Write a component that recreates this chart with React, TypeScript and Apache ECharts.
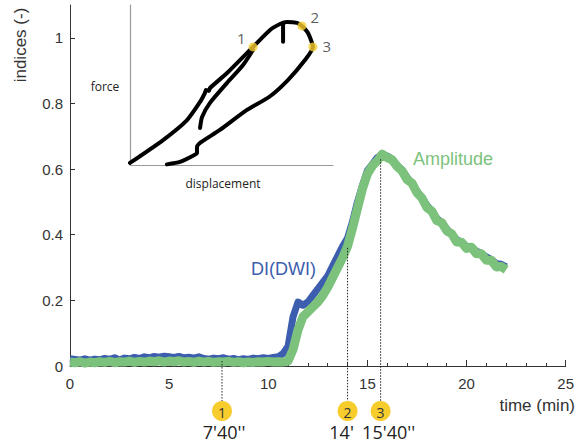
import React, { useEffect, useRef } from "react";
import * as echarts from "echarts";

// ---- main chart data (time in min) ----
const times = [
  0, 0.25, 0.5, 0.75, 1, 1.25, 1.5, 1.75, 2, 2.25, 2.5, 2.75, 3, 3.25, 3.5, 3.75,
  4, 4.25, 4.5, 4.75, 5, 5.25, 5.5, 5.75, 6, 6.25, 6.5, 6.75, 7, 7.25, 7.5, 7.75,
  8, 8.25, 8.5, 8.75, 9, 9.25, 9.5, 9.75, 10, 10.25, 10.5, 10.75, 11, 11.25, 11.5, 11.75,
  12, 12.25, 12.5, 12.75, 13, 13.25, 13.5, 13.75, 14, 14.25, 14.5, 14.75, 15, 15.25, 15.5, 15.75,
  16, 16.25, 16.5, 16.75, 17, 17.25, 17.5, 17.75, 18, 18.25, 18.5, 18.75, 19, 19.25, 19.5, 19.75,
  20, 20.25, 20.5, 20.75, 21, 21.25, 21.5, 21.75, 22,
];

const diDwi = [
  0.022, 0.02, 0.018, 0.022, 0.018, 0.021, 0.019, 0.023, 0.02, 0.025, 0.018, 0.024, 0.022, 0.026, 0.023, 0.028,
  0.025, 0.029, 0.027, 0.03, 0.028, 0.026, 0.029, 0.025, 0.027, 0.024, 0.028, 0.023, 0.021, 0.024, 0.022, 0.025,
  0.02, 0.023, 0.019, 0.022, 0.02, 0.024, 0.022, 0.025, 0.023, 0.026, 0.028, 0.038, 0.06, 0.15, 0.195, 0.185,
  0.195, 0.215, 0.235, 0.255, 0.275, 0.305, 0.335, 0.365, 0.39, 0.44, 0.5, 0.55, 0.595, 0.615, 0.635, 0.645,
  0.64, 0.63, 0.612, 0.597, 0.575, 0.555, 0.533, 0.512, 0.49, 0.472, 0.45, 0.437, 0.418, 0.402, 0.385, 0.377,
  0.365, 0.362, 0.35, 0.343, 0.332, 0.325, 0.312, 0.31, 0.302,
];

const amplitude = [
  0.012, 0.01, 0.013, 0.009, 0.012, 0.01, 0.013, 0.011, 0.014, 0.01, 0.013, 0.012, 0.015, 0.011, 0.014, 0.012,
  0.015, 0.013, 0.016, 0.012, 0.015, 0.013, 0.016, 0.012, 0.014, 0.011, 0.015, 0.012, 0.014, 0.011, 0.013, 0.012,
  0.014, 0.011, 0.013, 0.01, 0.012, 0.011, 0.013, 0.012, 0.014, 0.012, 0.013, 0.012, 0.015, 0.05, 0.11, 0.15,
  0.165, 0.18, 0.195, 0.215, 0.24, 0.27, 0.3, 0.33, 0.365, 0.42, 0.48, 0.54, 0.585, 0.61, 0.625, 0.645,
  0.635, 0.628, 0.608, 0.594, 0.568, 0.557, 0.528, 0.512, 0.483, 0.472, 0.443, 0.437, 0.412, 0.403, 0.378, 0.377,
  0.358, 0.362, 0.342, 0.342, 0.322, 0.322, 0.302, 0.303, 0.293,
];

const yTickValues = [0, 0.2, 0.4, 0.6, 0.8, 1];

// ---- annotated instants ----
const markTimes = [7 + 40 / 60, 14, 15 + 40 / 60];
const markValues = [0.015, 0.36, 0.63];
const markNumbers = ["1", "2", "3"];
const markLabels = ["7'40''", "14'", "15'40''"];

// ---- inset: force vs displacement (arbitrary units 0..100) ----
const loopDisp = [0, 16.3, 28.1, 34.5, 36.9, 37.4, 38.9, 39.4, 47.8, 60.6, 69, 73.9, 77.3, 82.3, 84.7, 87.7, 90.1,
  86.2, 77.8, 68.5, 57.6, 44.3, 34.5, 33, 33, 30.8, 24.6, 18.2];
const loopForce = [1.3, 15.6, 28.1, 39.4, 45, 46.9, 46.3, 48.1, 57.5, 73.8, 84.4, 88.1, 89.4, 88.8, 86.9, 82.5, 73.8,
  65.6, 53.1, 42.5, 34.4, 21.9, 13.8, 11.3, 7.5, 5.6, 1.9, 0.4];
const innerDisp = [34.5, 35.5, 39.4, 47.8, 55.7, 60.6];
const innerForce = [23.1, 30, 38.8, 51.3, 62.5, 71.9];
const dropDisp = [75.4, 75.4];
const dropForce = [88.8, 77];
const pointDisp = [60.6, 84.7, 90.1];
const pointForce = [73.8, 86.9, 73.8];

const BLUE = "#3d5eae";
const GREEN = "#7cc27c";
const YELLOW = "#f7cd2e";
const FONT = "'Liberation Sans', Arial, sans-serif";
const FONT2 = "'Open Sans', 'Noto Sans', sans-serif";

export default function App() {
  const ref = useRef<HTMLDivElement>(null);

  useEffect(() => {
    if (!ref.current) return;
    const chart = echarts.init(ref.current, null, { renderer: "svg" });

    const zip = (a: number[], b: number[]) => a.map((v, i) => [v, b[i]]);
    const pointLabelPos = ["left", "right", "right"];
    const pointLabelOffset = [[2, -9], [-1, -9], [0, -1]];

    chart.setOption({
      animation: false,
      backgroundColor: "#ffffff",
      grid: [
        { left: 70, right: 9, top: 5, bottom: 80, containLabel: false },
        { left: 130, top: 5, width: 203, height: 160 },
      ],
      xAxis: [
        {
          type: "value",
          gridIndex: 0,
          min: 0,
          max: 25,
          interval: 5,
          axisLine: { lineStyle: { color: "#333", width: 1 } },
          axisTick: { inside: true, length: 6, lineStyle: { color: "#333" } },
          minorTick: { show: true, splitNumber: 5, length: 3, lineStyle: { color: "#333" } },
          splitLine: { show: false },
          axisLabel: { color: "#333", fontSize: 15, fontFamily: FONT, margin: 10 },
        },
        {
          type: "value",
          gridIndex: 1,
          min: 0,
          max: 100,
          axisLine: { lineStyle: { color: "#9a9a9a", width: 1.2 } },
          axisTick: { show: false },
          axisLabel: { show: false },
          splitLine: { show: false },
        },
      ],
      yAxis: [
        {
          type: "value",
          gridIndex: 0,
          min: 0,
          max: 1.1,
          interval: 0.2,
          axisLine: { show: true, lineStyle: { color: "#333", width: 1 } },
          axisTick: { show: true, inside: true, length: 5, customValues: yTickValues, lineStyle: { color: "#333" } },
          splitLine: { show: false },
          axisLabel: {
            color: "#333",
            fontSize: 15,
            fontFamily: FONT,
            margin: 7,
            customValues: yTickValues,
            formatter: (v: number) => String(Math.round(v * 10) / 10),
          },
        },
        {
          type: "value",
          gridIndex: 1,
          min: 0,
          max: 100,
          axisLine: { show: true, lineStyle: { color: "#9a9a9a", width: 1.2 } },
          axisTick: { show: false },
          axisLabel: { show: false },
          splitLine: { show: false },
        },
      ],
      series: [
        {
          name: "DI(DWI)",
          type: "line",
          xAxisIndex: 0,
          yAxisIndex: 0,
          data: zip(times, diDwi),
          symbol: "none",
          lineStyle: { color: BLUE, width: 7, join: "round" },
          z: 2,
        },
        {
          name: "Amplitude",
          type: "line",
          xAxisIndex: 0,
          yAxisIndex: 0,
          data: zip(times, amplitude),
          symbol: "none",
          lineStyle: { color: GREEN, width: 9, join: "round" },
          z: 3,
        },
        {
          type: "line",
          xAxisIndex: 1,
          yAxisIndex: 1,
          data: zip(loopDisp, loopForce),
          symbol: "none",
          smooth: 0.2,
          lineStyle: { color: "#000", width: 4, cap: "round", join: "round" },
          z: 4,
        },
        {
          type: "line",
          xAxisIndex: 1,
          yAxisIndex: 1,
          data: zip(innerDisp, innerForce),
          symbol: "none",
          smooth: 0.2,
          lineStyle: { color: "#000", width: 4, cap: "round" },
          z: 4,
        },
        {
          type: "line",
          xAxisIndex: 1,
          yAxisIndex: 1,
          data: zip(dropDisp, dropForce),
          symbol: "none",
          lineStyle: { color: "#000", width: 4, cap: "round" },
          z: 4,
        },
        {
          type: "scatter",
          xAxisIndex: 1,
          yAxisIndex: 1,
          data: pointDisp.map((d, i) => ({
            value: [d, pointForce[i]],
            label: {
              show: true,
              formatter: markNumbers[i],
              position: pointLabelPos[i],
              offset: pointLabelOffset[i],
              color: "#333",
              fontSize: 15,
              fontFamily: FONT2,
            },
          })),
          symbol: "circle",
          symbolSize: 9,
          itemStyle: { color: YELLOW },
          z: 5,
        },
      ],
    });

    const graphics: any[] = [
      {
        type: "text",
        x: 20,
        y: 45,
        rotation: Math.PI / 2,
        style: { text: "indices (-)", fontSize: 17, fontFamily: FONT, fill: "#333", align: "center", verticalAlign: "middle" },
      },
      {
        type: "text",
        x: 575,
        y: 405,
        style: { text: "time (min)", fontSize: 17, fontFamily: FONT, fill: "#333", align: "right", verticalAlign: "middle" },
      },
      {
        type: "text",
        x: 251,
        y: 269,
        style: { text: "DI(DWI)", fontSize: 18, fontFamily: FONT, fill: BLUE, align: "left", verticalAlign: "middle" },
      },
      {
        type: "text",
        x: 413,
        y: 159,
        style: { text: "Amplitude", fontSize: 18, fontFamily: FONT, fill: GREEN, align: "left", verticalAlign: "middle" },
      },
      {
        type: "text",
        x: 105,
        y: 86,
        style: { text: "force", fontSize: 12, fontFamily: FONT2, fill: "#222", align: "center", verticalAlign: "middle" },
      },
      {
        type: "text",
        x: 223,
        y: 183,
        style: { text: "displacement", fontSize: 12, fontFamily: FONT2, fill: "#222", align: "center", verticalAlign: "middle" },
      },
    ];

    const labelShift = [2, -6, 8];
    markTimes.forEach((t, i) => {
      const top = chart.convertToPixel({ gridIndex: 0 }, [t, markValues[i]]) as number[];
      const x = top[0];
      graphics.push({
        type: "line",
        shape: { x1: x, y1: top[1], x2: x, y2: 401 },
        style: { stroke: "#222", lineWidth: 1, lineDash: [1.5, 1.5] },
        z: 10,
      });
      graphics.push({
        type: "circle",
        shape: { cx: x, cy: 411, r: 10 },
        style: { fill: YELLOW },
        z: 10,
      });
      graphics.push({
        type: "text",
        x: x,
        y: 412,
        style: { text: markNumbers[i], fontSize: 14, fontFamily: FONT2, fill: "#333", align: "center", verticalAlign: "middle" },
        z: 11,
      });
      graphics.push({
        type: "text",
        x: x + labelShift[i],
        y: 432,
        style: { text: markLabels[i], fontSize: 18, fontFamily: FONT2, fill: "#222", align: "center", verticalAlign: "middle" },
        z: 11,
      });
    });

    chart.setOption({ graphic: graphics });

    return () => chart.dispose();
  }, []);

  return (
    <div
      ref={ref}
      style={{ position: "fixed", left: 0, top: 0, width: 577, height: 446, background: "#fff" }}
    />
  );
}
